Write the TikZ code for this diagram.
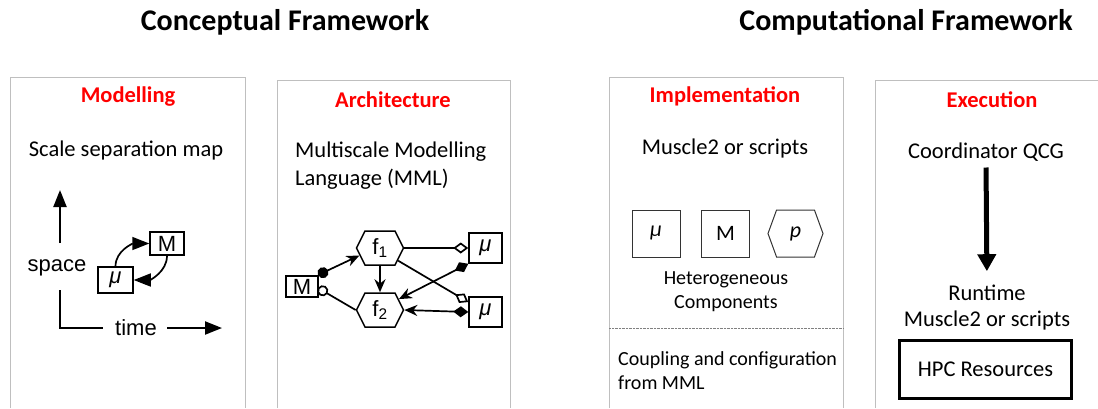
\documentclass[tikz,border=0pt]{standalone}
\usepackage{fontspec}
\setmainfont{Carlito}
\newfontfamily\helv{Liberation Sans}
\usetikzlibrary{arrows.meta,shapes.symbols,calc}

\tikzset{
  panel/.style={draw=gray!50, line width=0.8pt},
  title/.style={font=\fontsize{30}{32}\selectfont\bfseries},
  heading/.style={text=red, font=\fontsize{22.5}{24}\selectfont\bfseries},
  body/.style={font=\fontsize{22.5}{28}\selectfont, inner sep=0pt},
  small/.style={font=\fontsize{20}{24}\selectfont, inner sep=0pt},
  lab/.style={font=\helv\fontsize{22}{24}\selectfont, inner sep=0pt},
  sbox/.style={draw, line width=1.5pt, inner sep=0pt, font=\helv\fontsize{22}{24}\selectfont},
  hexa/.style={draw, line width=1.5pt, signal, signal to=east and west, signal pointer angle=127,
    inner sep=0pt, minimum width=47pt, minimum height=34pt, font=\helv\fontsize{22}{24}\selectfont},
  ibox/.style={draw=black!80, line width=1pt, inner sep=0pt, minimum width=48pt,
    minimum height=47pt, font=\fontsize{22}{24}\selectfont},
  axis/.style={line width=2.2pt},
  link/.style={line width=1.7pt},
  tipbig/.tip={Triangle[length=17pt 0,width=13pt 0]},
  tipsmall/.tip={Stealth[length=13pt 0,width=11pt 0]},
  port/.tip={Circle[length=11pt 0]},
  gem/.tip={Diamond[length=15pt 0,width=11pt 0]},
}

\begin{document}
\begin{tikzpicture}[x=1pt,y=-1pt]
\useasboundingbox (0,0) rectangle (1098,408);

\node[title] (concept) at (285,22) {Conceptual Framework};
\node[title] (comput) at (906,22) {Computational Framework};

\draw[panel] (10,408) |- (245,77) -- (245,408);
\draw[panel] (277,408) |- (510,80) -- (510,408);
\draw[panel] (609,408) |- (843,77) -- (843,408);
\draw[panel] (875,408) |- (1098,80);

\node[heading] (modl) at (128,97) {Modelling};
\node[heading] (arch) at (393,100) {Architecture};
\node[heading] (impl) at (725,96) {Implementation};
\node[heading] (exec) at (992,100) {Execution};

\node[body] (ssm) at (126,150) {Scale separation map};
\node[body, align=left, anchor=west] (mml) at (295,166) {Multiscale Modelling\\Language (MML)};
\node[body] (musc) at (725,148) {Muscle2 or scripts};
\node[body] (coord) at (986,152) {Coordinator QCG};

\coordinate (ytip) at (60,190);
\coordinate (ybot) at (60,243);
\coordinate (ylow) at (60,290);
\coordinate (xend) at (103,328);
\coordinate (xbeg) at (167,328);
\coordinate (xtip) at (222,328);
\node[lab] (space) at (57,268) {space};
\node[lab] (time) at (136,328) {time};
\node[sbox, minimum width=35pt, minimum height=26pt] (mu) at (115.5,280) {\itshape μ};
\node[sbox, minimum width=34pt, minimum height=23pt] (bigM) at (167,243.5) {M};

\draw[axis, -tipbig] (ybot) -- (ytip);
\draw[axis] (ylow) |- (xend);
\draw[axis, -tipbig] (xbeg) -- (xtip);
\draw[link, -tipbig] (mu.north) to[out=90,in=180] (bigM.west);
\draw[link, -tipbig] (bigM.south) to[out=-90,in=0] (mu.east);

\node[hexa] (f1) at (380,248) {f\textsubscript{1}};
\node[hexa] (f2) at (380,310) {f\textsubscript{2}};
\node[sbox, minimum width=32pt, minimum height=21pt] (am) at (302,286.5) {M};
\node[sbox, minimum width=33pt, minimum height=30pt] (amu1) at (485.5,248) {\itshape μ};
\node[sbox, minimum width=33pt, minimum height=30pt] (amu2) at (485.5,312) {\itshape μ};
\coordinate (pa) at (318,275);
\coordinate (pb) at (318,288);

\draw[link, port-tipsmall] (pa) -- (f1.200);
\draw[link, {port[open]}-] (pb) -- (f2.west);
\draw[link, -tipsmall] (f1.south) -- (f2.north);
\draw[link, -{gem[open]}] (f1.east) -- (amu1.west);
\draw[link, -{gem[open]}] (f1.-35) -- (amu2.150);
\draw[link, gem-tipsmall] (amu1.south west) -- (f2.30);
\draw[link, gem-tipsmall] (amu2.west) -- (f2.east);

\node[ibox] (imu) at (656,233.5) {\itshape μ};
\node[ibox] (im) at (725.5,233.5) {M};
\node[ibox, signal, signal to=east and west, signal pointer angle=140, minimum width=55pt] (ip) at (795.5,233.5) {\itshape p};
\node[small, align=center] (hetero) at (726,291.5) {Heterogeneous\\Components};
\draw[gray, densely dotted] (609,328) -- (843,328);
\node[small, align=left, anchor=west] (coup) at (618,370.5) {Coupling and configuration\\from MML};

\node[body, align=center, font=\fontsize{22.5}{26}\selectfont] (rt) at (987,308) {Runtime\\Muscle2 or scripts};
\node[draw, line width=3pt, minimum width=172pt, minimum height=58pt, font=\fontsize{22.5}{24}\selectfont] (hpc) at (985.5,369.5) {HPC Resources};
\draw[line width=5pt, -{Triangle[length=17pt 0,width=18pt 0]}, shorten <=6pt, shorten >=14pt] (coord.south) -- (rt.north);

\end{tikzpicture}
\end{document}
